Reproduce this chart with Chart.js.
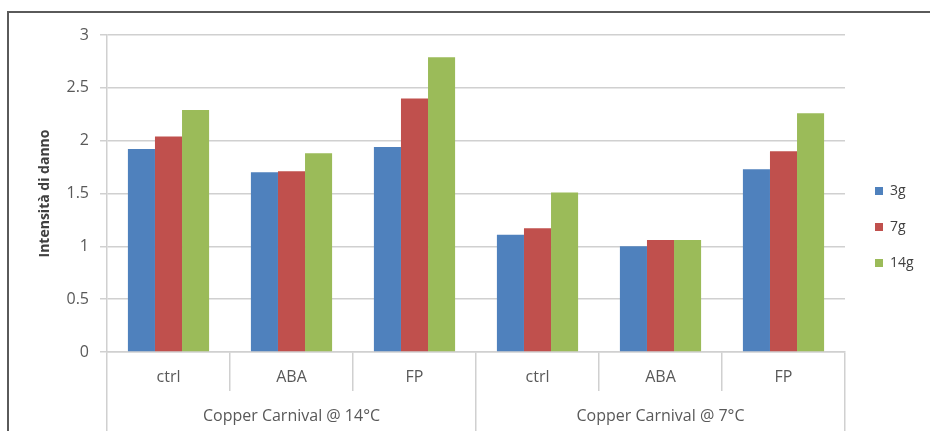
<!DOCTYPE html>
<html>
<head>
<meta charset="utf-8">
<script src="https://cdn.jsdelivr.net/npm/chart.js@4/dist/chart.umd.min.js"></script>
<style>
  html, body { margin: 0; padding: 0; background: #fff; }
  #wrap { position: relative; width: 930px; height: 431px; overflow: hidden; }
  #frame { position: absolute; left: 7px; top: 11px; right: -10px; bottom: -10px;
           border-left: 2px solid #5a5a5a; border-top: 2px solid #5a5a5a; pointer-events: none; }
  canvas { position: absolute; left: 0; top: 0; }
</style>
</head>
<body>
<div id="wrap">
  <canvas id="chart" width="930" height="431"></canvas>
  <div id="frame"></div>
</div>
<script>
const treatments = ['ctrl', 'ABA', 'FP', 'ctrl', 'ABA', 'FP'];
const groups = ['Copper Carnival @ 14°C', 'Copper Carnival @ 7°C'];
const days3 = [1.92, 1.70, 1.94, 1.11, 1.00, 1.73];
const days7 = [2.04, 1.71, 2.40, 1.17, 1.06, 1.90];
const days14 = [2.29, 1.88, 2.79, 1.51, 1.06, 2.26];
const yTicks = [0, 0.5, 1, 1.5, 2, 2.5, 3];

const font = 'Open Sans';
const textColor = '#595959';
const lineColor = '#d0d0d0';

// fixed legend width, nudged to sit like the original
const legendFix = {
    id: 'legendFix',
    beforeInit(chart) {
        const orig = chart.legend.fit;
        chart.legend.fit = function () {
            orig.call(this);
            this.width = 85;
        };
    },
    afterLayout(chart) {
        const lg = chart.legend;
        lg.left += 8; lg.right += 8;
        lg.top -= 6; lg.bottom -= 6;
    }
};

const ctx = document.getElementById('chart').getContext('2d');
new Chart(ctx, {
    type: 'bar',
    data: {
        labels: treatments,
        datasets: [
            { label: '3g', data: days3, backgroundColor: '#4f81bd' },
            { label: '7g', data: days7, backgroundColor: '#c0504d' },
            { label: '14g', data: days14, backgroundColor: '#9bbb59' }
        ]
    },
    options: {
        responsive: false,
        animation: false,
        devicePixelRatio: 1,
        categoryPercentage: 0.66,
        barPercentage: 1,
        layout: { padding: { top: 35, left: 0, right: 0, bottom: 0 } },
        plugins: {
            tooltip: { enabled: false },
            legend: {
                position: 'right',
                labels: {
                    color: '#404040',
                    font: { family: font, size: 14 },
                    boxWidth: 8,
                    boxHeight: 8,
                    padding: 22
                }
            }
        },
        scales: {
            x: {
                offset: true,
                grid: { offset: true, drawOnChartArea: false, tickLength: 39, color: lineColor, lineWidth: 1.5 },
                border: { color: lineColor, width: 1.5 },
                ticks: { color: textColor, font: { family: font, size: 16 }, padding: -23, maxRotation: 0 },
                afterFit(s) { s.height = 39; }
            },
            x2: {
                type: 'category',
                labels: groups,
                position: 'bottom',
                offset: true,
                grid: { offset: true, drawOnChartArea: false, tickLength: 40, color: lineColor, lineWidth: 1.5 },
                border: { display: false },
                ticks: { color: textColor, font: { family: font, size: 16 }, padding: -24, maxRotation: 0 },
                afterFit(s) { s.height = 40; }
            },
            y: {
                min: 0,
                max: 3,
                afterBuildTicks(s) { s.ticks = yTicks.map(v => ({ value: v })); },
                grid: { color: lineColor, lineWidth: 1.5, tickLength: 7 },
                border: { color: lineColor, width: 1.5 },
                ticks: {
                    color: textColor,
                    font: { family: font, size: 16 },
                    padding: 11,
                    callback: v => String(v)
                },
                title: {
                    display: true,
                    text: 'Intensità di danno',
                    color: '#404040',
                    font: { family: font, size: 14, weight: 'bold' },
                    padding: { top: 37, bottom: 0 }
                },
                afterFit(s) { s.width = 107; }
            }
        }
    },
    plugins: [legendFix]
});
</script>
</body>
</html>
